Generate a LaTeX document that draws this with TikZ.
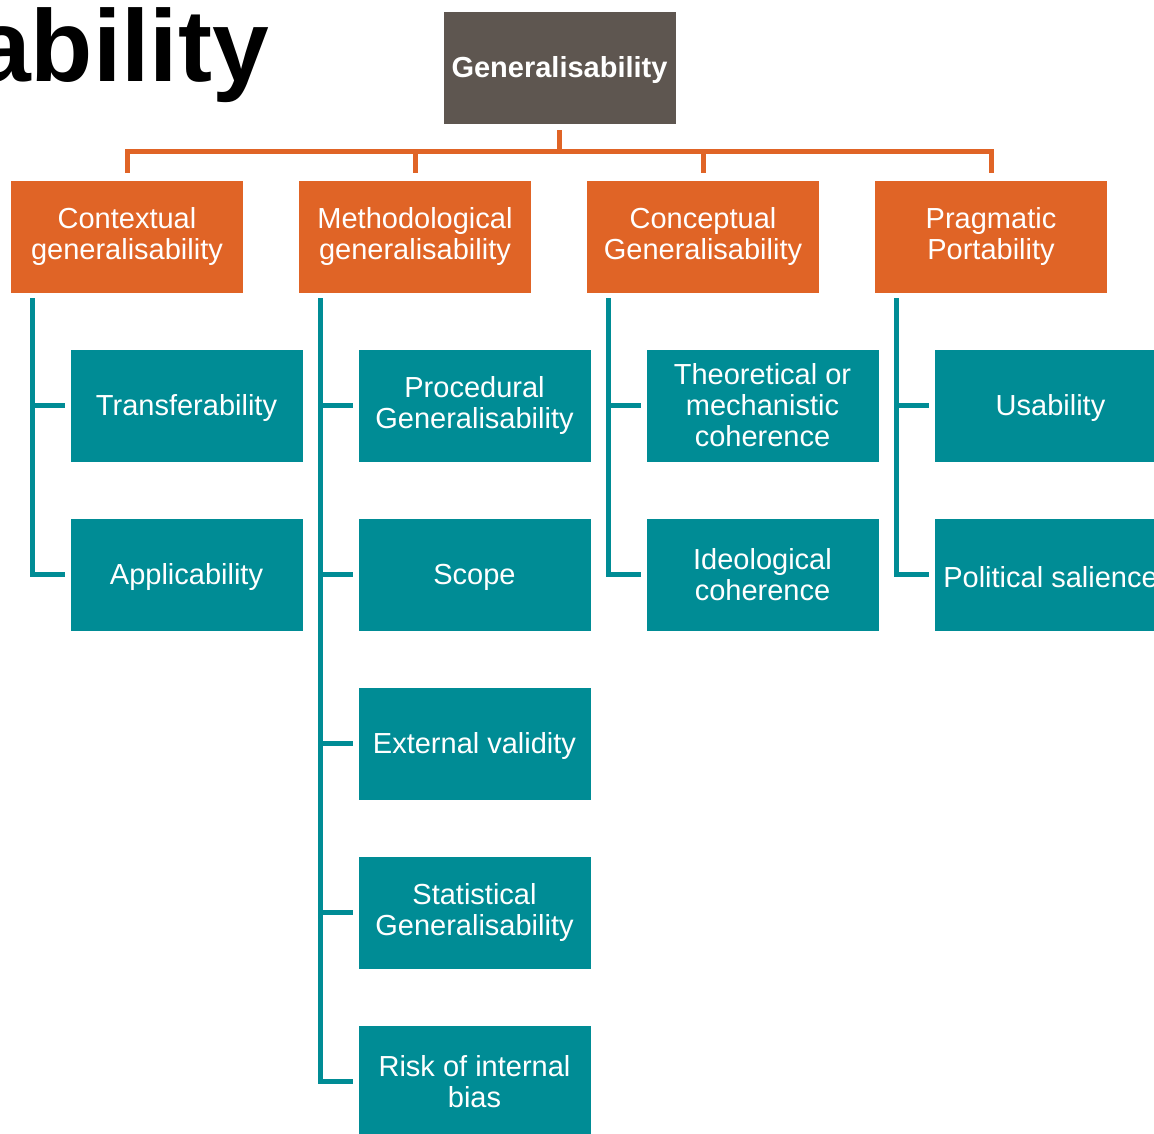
\documentclass[tikz,border=0pt]{standalone}
\usepackage{fontspec}
\setmainfont{Liberation Sans}
\definecolor{rootgray}{HTML}{5E5650}
\definecolor{branchorange}{HTML}{E06426}
\definecolor{leafteal}{HTML}{008C95}
\begin{document}
\begin{tikzpicture}[x=1pt,y=-1pt,
  basebox/.style={rectangle, draw=white, line width=0.8pt, minimum width=233pt, minimum height=113pt,
    inner sep=0pt, align=center, text=white, font=\fontsize{29}{31}\selectfont,
    execute at begin node={\rule{0pt}{26pt}}},
  rootbox/.style={basebox, fill=rootgray, font=\bfseries\fontsize{29}{31}\selectfont},
  branchbox/.style={basebox, fill=branchorange},
  leafbox/.style={basebox, fill=leafteal},
  oline/.style={draw=branchorange, line width=5pt},
  tline/.style={draw=leafteal, line width=5pt}]
\useasboundingbox (0,0) rectangle (1154,1134);
\clip (0,0) rectangle (1154,1134);

% heading, running off the left edge
\node[anchor=base west, inner sep=0pt, font=\bfseries\fontsize{102}{104}\selectfont] (heading) at (-26,82) {ability};

% root
\node[rootbox] (root) at (559.5,67.5) {Generalisability};

% branches
\node[branchbox] (c1) at (127,236.5) {Contextual\\generalisability};
\node[branchbox] (c2) at (415,236.5) {Methodological\\generalisability};
\node[branchbox] (c3) at (703,236.5) {Conceptual\\Generalisability};
\node[branchbox] (c4) at (991,236.5) {Pragmatic\\Portability};

% leaves
\node[leafbox] (t11) at (186.5,405.5) {Transferability};
\node[leafbox] (t12) at (186.5,574.5) {Applicability};

\node[leafbox] (t21) at (474.5,405.5) {Procedural\\Generalisability};
\node[leafbox] (t22) at (474.5,574.5) {Scope};
\node[leafbox] (t23) at (474.5,743.5) {External validity};
\node[leafbox] (t24) at (474.5,912.5) {Statistical\\Generalisability};
\node[leafbox] (t25) at (474.5,1081.5) {Risk of internal\\bias};

\node[leafbox] (t31) at (762.5,405.5) {Theoretical or\\mechanistic\\coherence};
\node[leafbox] (t32) at (762.5,574.5) {Ideological\\coherence};

\node[leafbox] (t41) at (1050.5,405.5) {Usability};
\node[leafbox] (t42) at (1050.5,574.5) {Political salience};

% root-to-branch bus
\coordinate (bus) at (0,152);
\draw[oline] ([yshift=-6pt]root.south) -- (root.south |- bus);
\draw[oline] ([yshift=7pt]c1.north) |- (c4.north |- bus) -- ([yshift=7pt]c4.north);
\draw[oline] ([yshift=7pt]c2.north) -- (c2.north |- bus);
\draw[oline] ([yshift=7pt]c3.north) -- (c3.north |- bus);

% branch-to-leaf spines
\draw[tline] ([xshift=22pt,yshift=-5pt]c1.south west) |- ([xshift=-5pt]t12.west);
\draw[tline] ([xshift=22pt]c1.south west |- t11.west) -- ([xshift=-5pt]t11.west);

\draw[tline] ([xshift=22pt,yshift=-5pt]c2.south west) |- ([xshift=-5pt]t25.west);
\draw[tline] ([xshift=22pt]c2.south west |- t21.west) -- ([xshift=-5pt]t21.west);
\draw[tline] ([xshift=22pt]c2.south west |- t22.west) -- ([xshift=-5pt]t22.west);
\draw[tline] ([xshift=22pt]c2.south west |- t23.west) -- ([xshift=-5pt]t23.west);
\draw[tline] ([xshift=22pt]c2.south west |- t24.west) -- ([xshift=-5pt]t24.west);

\draw[tline] ([xshift=22pt,yshift=-5pt]c3.south west) |- ([xshift=-5pt]t32.west);
\draw[tline] ([xshift=22pt]c3.south west |- t31.west) -- ([xshift=-5pt]t31.west);

\draw[tline] ([xshift=22pt,yshift=-5pt]c4.south west) |- ([xshift=-5pt]t42.west);
\draw[tline] ([xshift=22pt]c4.south west |- t41.west) -- ([xshift=-5pt]t41.west);
\end{tikzpicture}
\end{document}
